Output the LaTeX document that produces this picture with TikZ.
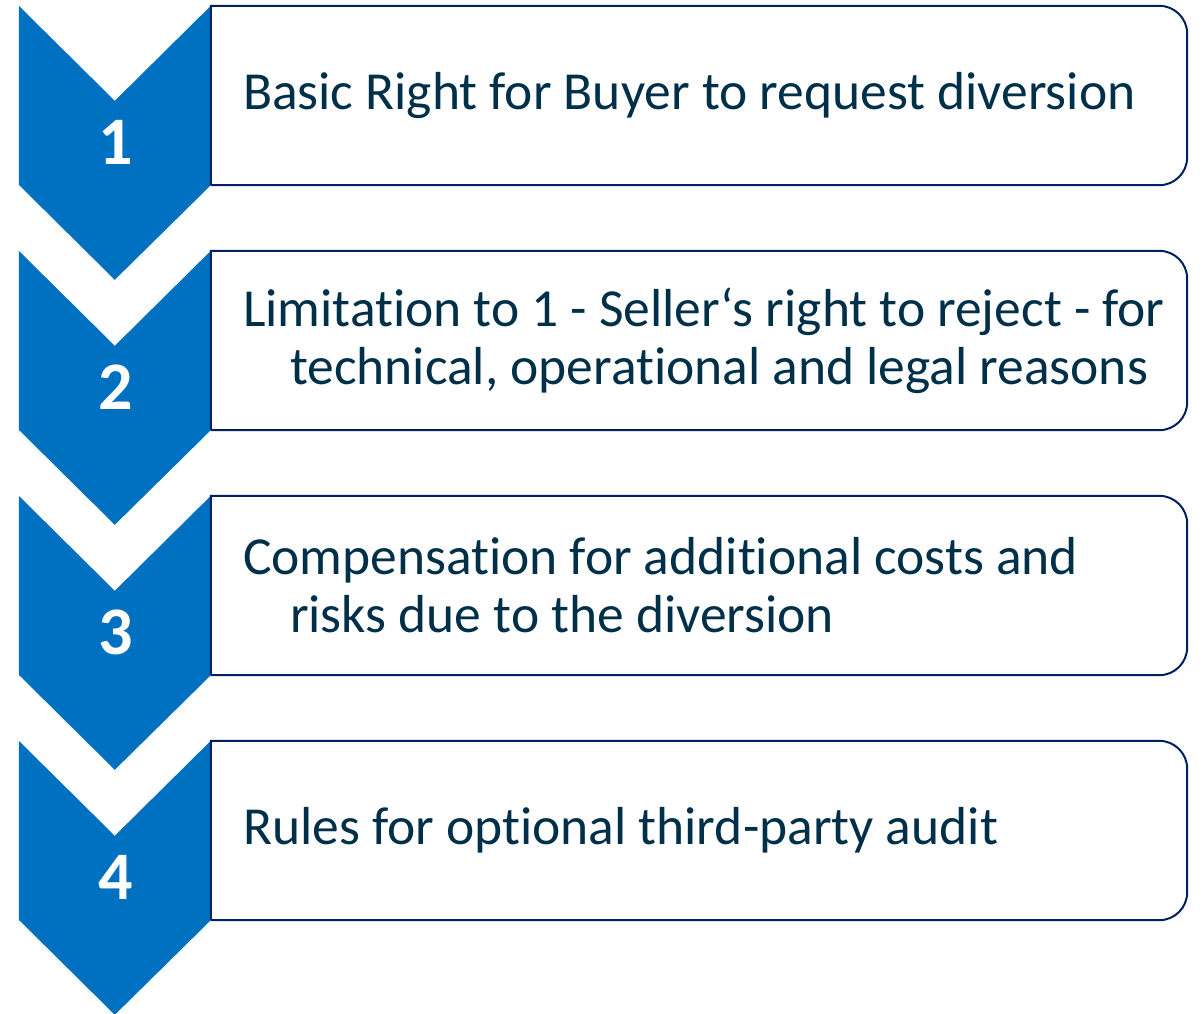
\documentclass[tikz,border=0pt]{standalone}
\usepackage{fontspec}
\setmainfont{Carlito}[Ligatures=NoCommon]
\definecolor{chevblue}{RGB}{0,112,192}
\definecolor{boxnavy}{RGB}{0,32,96}
\definecolor{textnavy}{RGB}{0,48,73}
\tikzstyle{stepbox} = [minimum width=976pt, minimum height=179pt, inner sep=0pt]
\tikzstyle{boxline} = [draw=boxnavy, line width=2pt]
\tikzstyle{chevron} = [fill=chevblue]
\tikzstyle{steptext} = [anchor=west, align=left, inner sep=0pt, text=textnavy, font=\fontsize{53.5}{58}\selectfont]
\tikzstyle{stepnum} = [inner sep=0pt, text=white, font=\fontsize{68}{70}\selectfont\bfseries]

\begin{document}
\begin{tikzpicture}[x=1pt,y=-1pt]
    \useasboundingbox (0,0) rectangle (1202,1013);
    %% steps: chevron, number, box and text
    \foreach \i/\ytop/\txt in {
      1/6/{Basic Right for Buyer to request diversion},
      2/251/{Limitation to 1 - Seller‘s right to reject - for\\\hspace*{47pt}technical, operational and legal reasons},
      3/496/{Compensation for additional costs and\\\hspace*{47pt}risks due to the diversion},
      4/741/{Rules for optional third-party audit}}
    {
      \node[stepbox] (b\i) at (699,\ytop+89.5) {};
      \fill[chevron] (b\i.north west) -- ++(-96,95) -- ++(-96,-95) -- ++(0,179)
        -- ++(96,95) -- (b\i.south west) -- cycle;
      \draw[boxline] (b\i.south west) -- (b\i.north west) [rounded corners=28pt]
        -- (b\i.north east) -- (b\i.south east) -- (b\i.south west);
      \node[stepnum] (n\i) at (116,\ytop+136) {\i};
      \node[steptext] (t\i) at ([xshift=32pt]b\i.west) {\txt};
    }
\end{tikzpicture}
\end{document}
